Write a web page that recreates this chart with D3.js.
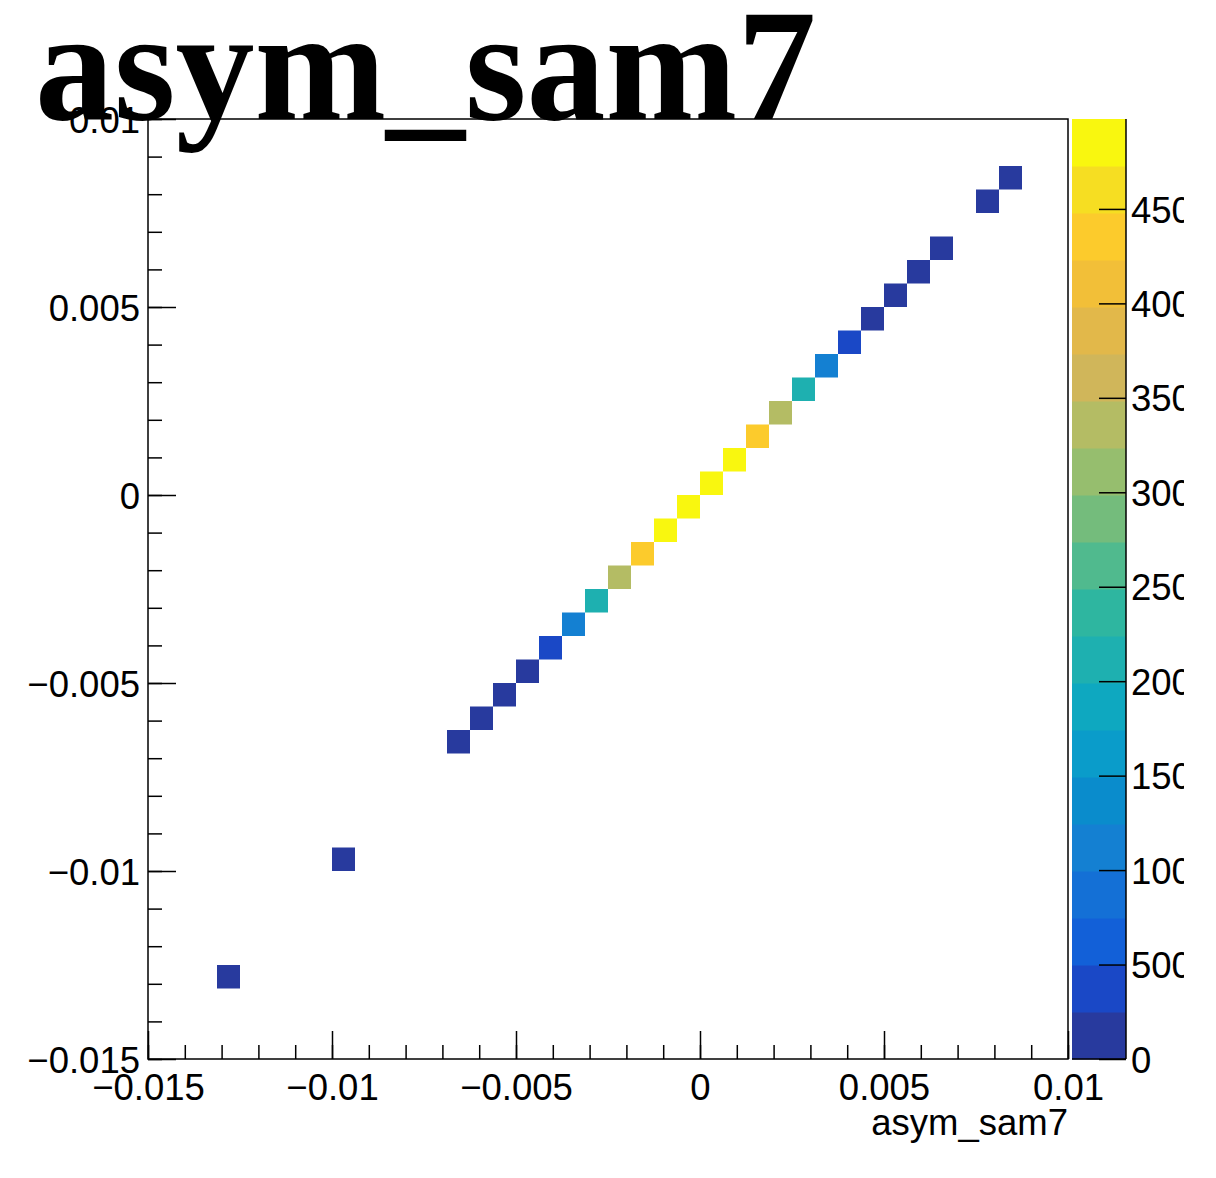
<!DOCTYPE html>
<html>
<head>
<meta charset="utf-8">
<script src="https://cdn.jsdelivr.net/npm/d3@7"></script>
<style>
  body { margin: 0; background: #fff; }
</style>
</head>
<body>
<div id="chart"></div>
<script>
// histogram binning (40 x 40 over the same range on both axes)
var nBins = 40;
var histMin = -0.015, histMax = 0.01;

// filled cells: x bin index, y bin index, content
var binX = [3, 8, 13, 14, 15, 16, 17, 18, 19, 20, 21, 22, 23, 24, 25, 26, 27, 28, 29, 30, 31, 32, 33, 34, 36, 37];
var binY = [3, 8, 13, 14, 15, 16, 17, 18, 19, 20, 21, 22, 23, 24, 25, 26, 27, 28, 29, 30, 31, 32, 33, 34, 36, 37];
var counts = [25, 40, 55, 85, 130, 205, 390, 1120, 2110, 3350, 4350, 4820, 4976, 4950, 4800, 4330, 3300, 2080, 1140, 380, 200, 125, 80, 50, 20, 15];

var xTicks = [-0.015, -0.01, -0.005, 0, 0.005, 0.01];
var xTickLabels = ["\u22120.015", "\u22120.01", "\u22120.005", "0", "0.005", "0.01"];
var yTicks = [-0.015, -0.01, -0.005, 0, 0.005, 0.01];
var yTickLabels = ["\u22120.015", "\u22120.01", "\u22120.005", "0", "0.005", "0.01"];
var zTicks = [0, 500, 1000, 1500, 2000, 2500, 3000, 3500, 4000, 4500];
var zTickLabels = ["0", "500", "1000", "1500", "2000", "2500", "3000", "3500", "4000", "4500"];
var zMax = 4976;
var nLevels = 20;

// palette bands, bottom to top
var bandColors = ["#283a9e", "#1a48c6", "#1260d8", "#1470d6", "#1480d2",
                  "#0a8ccc", "#0a9cca", "#0ea8c0", "#1eb0b0", "#2eb6a0",
                  "#50ba8e", "#74bc7c", "#96be6e", "#b4bc64", "#d0b65a",
                  "#e2b84a", "#f2bf38", "#fccb2c", "#f6de22", "#f9f70f"];

var titleText = "asym_sam7";
var xTitle = "asym_sam7";

var W = 1216, H = 1178;
var frame = {left: 148, right: 1068, top: 119, bottom: 1059};
var pal = {left: 1072, right: 1126};
var sans = "'Liberation Sans', Arial, Helvetica, sans-serif";
var fs = 36.5;

var svg = d3.select("#chart").append("svg")
        .attr("width", W)
        .attr("height", H);

var x = d3.scaleLinear().domain([histMin, histMax]).range([frame.left, frame.right]);
var y = d3.scaleLinear().domain([histMin, histMax]).range([frame.bottom, frame.top]);
var z = d3.scaleLinear().domain([0, zMax]).range([frame.bottom, frame.top]);

var binW = (histMax - histMin) / nBins;
var levelW = zMax / nLevels;

function bandOf(v) {
    return Math.max(0, Math.min(nLevels - 1, Math.floor(v / levelW)));
}

var cells = binX.map(function (bx, i) {
    return {x0: histMin + bx * binW, y0: histMin + binY[i] * binW, v: counts[i]};
});

// cells
svg.append("g").selectAll("rect")
        .data(cells)
        .enter()
        .append("rect")
        .attr("x", function (d) { return x(d.x0); })
        .attr("y", function (d) { return y(d.y0 + binW); })
        .attr("width", function (d) { return x(d.x0 + binW) - x(d.x0); })
        .attr("height", function (d) { return y(d.y0) - y(d.y0 + binW); })
        .attr("fill", function (d) { return bandColors[bandOf(d.v)]; });

// frame
svg.append("rect")
        .attr("x", frame.left)
        .attr("y", frame.top)
        .attr("width", frame.right - frame.left)
        .attr("height", frame.bottom - frame.top)
        .attr("fill", "none")
        .attr("stroke", "#000")
        .attr("stroke-width", 1.5);

var minorTicks = d3.range(-15, 11).map(function (k) { return k * 0.001; });

// x axis
var xMinor = svg.append("g")
        .attr("transform", "translate(0," + frame.bottom + ")")
        .call(d3.axisBottom(x).tickValues(minorTicks).tickSize(-14).tickFormat(""));
var xMajor = svg.append("g")
        .attr("transform", "translate(0," + frame.bottom + ")")
        .call(d3.axisBottom(x).tickValues(xTicks).tickSize(-28).tickPadding(42)
                .tickFormat(function (d, i) { return xTickLabels[i]; }));

// y axis
var yMinor = svg.append("g")
        .attr("transform", "translate(" + frame.left + ",0)")
        .call(d3.axisLeft(y).tickValues(minorTicks).tickSize(-14).tickFormat(""));
var yMajor = svg.append("g")
        .attr("transform", "translate(" + frame.left + ",0)")
        .call(d3.axisLeft(y).tickValues(yTicks).tickSize(-28).tickPadding(8)
                .tickFormat(function (d, i) { return yTickLabels[i]; }));

[xMinor, xMajor, yMinor, yMajor].forEach(function (g) {
    g.select(".domain").remove();
    g.selectAll(".tick line").attr("stroke", "#000").attr("stroke-width", 1.5);
    g.selectAll("text")
            .style("font-family", sans)
            .style("font-size", fs + "px")
            .attr("fill", "#000");
});
xMajor.selectAll("text").attr("dy", "0em").attr("y", 41);
yMajor.selectAll("text").attr("dy", "0.36em");

// x axis title
svg.append("text")
        .attr("x", frame.right)
        .attr("y", 1135)
        .attr("text-anchor", "end")
        .style("font-family", sans)
        .style("font-size", fs + "px")
        .attr("fill", "#000")
        .text(xTitle);

// palette
svg.append("g").selectAll("rect")
        .data(bandColors)
        .enter()
        .append("rect")
        .attr("x", pal.left)
        .attr("y", function (d, i) { return z((i + 1) * levelW); })
        .attr("width", pal.right - pal.left)
        .attr("height", function (d, i) { return z(i * levelW) - z((i + 1) * levelW) + 0.5; })
        .attr("fill", function (d) { return d; });

svg.append("defs").append("clipPath")
        .attr("id", "palclip")
        .append("rect")
        .attr("x", 0).attr("y", 0)
        .attr("width", 1184).attr("height", H);

var zAxis = svg.append("g")
        .attr("clip-path", "url(#palclip)")
        .append("g")
        .attr("transform", "translate(" + pal.right + ",0)")
        .call(d3.axisRight(z).tickValues(zTicks).tickSize(-27).tickPadding(5)
                .tickFormat(function (d, i) { return zTickLabels[i]; }));
zAxis.select(".domain").remove();
zAxis.selectAll(".tick line").attr("stroke", "#000").attr("stroke-width", 1.5);
zAxis.selectAll("text")
        .style("font-family", sans)
        .style("font-size", fs + "px")
        .attr("fill", "#000")
        .attr("dy", "0.36em");

svg.append("line")
        .attr("x1", pal.right).attr("x2", pal.right)
        .attr("y1", frame.top).attr("y2", frame.bottom)
        .attr("stroke", "#000").attr("stroke-width", 1.5);
svg.append("line")
        .attr("x1", pal.left).attr("x2", pal.right)
        .attr("y1", frame.bottom).attr("y2", frame.bottom)
        .attr("stroke", "#000").attr("stroke-width", 1.5);

// big title
svg.append("text")
        .attr("x", 35)
        .attr("y", 119)
        .style("font-family", "'Liberation Serif', 'Times New Roman', serif")
        .style("font-weight", "bold")
        .style("font-size", "158px")
        .attr("fill", "#000")
        .text(titleText);
</script>
</body>
</html>
